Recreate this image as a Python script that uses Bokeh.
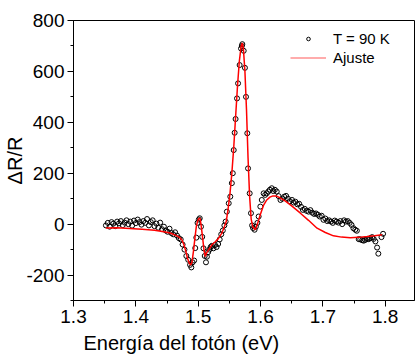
from bokeh.plotting import figure
from bokeh.models import (Legend, LegendItem, SingleIntervalTicker, Range1d, Title,
                          PrintfTickFormatter)
from bokeh.embed import file_html
from bokeh.resources import INLINE

FONT = "Liberation Sans"
NAN = float("nan")

energy = [
    1.352, 1.355, 1.358, 1.361, 1.364, 1.367, 1.370, 1.373, 1.376, 1.379,
    1.382, 1.385, 1.388, 1.391, 1.394, 1.397, 1.400, 1.403, 1.406, 1.409,
    1.412, 1.415, 1.418, 1.421, 1.424, 1.427, 1.430, 1.433, 1.436, 1.439,
    1.442, 1.445, 1.448, 1.451, 1.454, 1.457, 1.460, 1.463, 1.466, 1.469,
    1.472, 1.475, 1.478, 1.481, 1.484, 1.487, 1.489, 1.491, 1.4935, 1.4953,
    1.4970, 1.4990, 1.5010, 1.5025, 1.5045, 1.5065, 1.5085, 1.5105, 1.5125, 1.5140,
    1.5160, 1.5180, 1.5200, 1.5220, 1.5245, 1.5270, 1.5295, 1.5320, 1.5345, 1.5370,
    1.5395, 1.5420, 1.5440, 1.5460, 1.5490, 1.5515, 1.5540, 1.5555, 1.5570, 1.5585,
    1.5600, 1.5623, 1.5640, 1.5665, 1.5687, 1.5700, 1.5708, 1.5730, 1.5750, 1.5767,
    1.5788, 1.5800, 1.5826, 1.5847, 1.5865, 1.5880, 1.5905, 1.5925, 1.5950, 1.5970,
    1.5997, 1.6020, 1.6050, 1.6075, 1.6100, 1.6125, 1.6150, 1.6180, 1.6205, 1.6230,
    1.6260, 1.6290, 1.6320, 1.6350, 1.6380, 1.6410, 1.6440, 1.6470, 1.6506, 1.6530,
    1.6560, 1.6590, 1.6620, 1.6650, 1.6680, 1.6710, 1.6740, 1.6770, 1.6800, 1.6830,
    1.6860, 1.6890, 1.6920, 1.6950, 1.6980, 1.7010, 1.7040, 1.7070, 1.7100, 1.7130,
    1.7160, 1.7190, 1.7220, 1.7250, 1.7280, 1.7310, 1.7340, 1.7370, 1.7400, 1.7430,
    1.7460, 1.7490, 1.7520, 1.7545, 1.7575, 1.7600, 1.7630, 1.7655, 1.7680, 1.7710,
    1.7735, 1.7760, 1.7790, 1.7815, 1.7843, 1.7870, 1.7890, 1.7940, 1.7966,
]

dR_R = [
    -5, 5, -10, 8, 2, -8, 10, 3, 12, -4,
    6, 15, 0, 10, -6, 14, 4, 18, 8, -2,
    12, 5, 20, -5, 8, 15, -8, 2, -14, 6,
    -20, -10, -25, -30, -18, -35, -40, -32, -45, -55,
    -60, -80, -100, -125, -140, -160, -170, -150, -143, -94,
    -53, 5, 18, 23, -10, -50, -95, -125, -150, -128,
    -110, -100, -90, -85, -95, -82, -90, -78, -60, -40,
    -25, -5, 10, 49, 82, 108, 161, 200, 291, 359,
    413, 494, 553, 625, 690, 700, 707, 681, 614, 500,
    357, 219, 121, 43, -5, -15, -22, -10, 5, 30,
    69, 95, 121, 115, 121, 128, 135, 141, 130, 135,
    128, 110, 95, 100, 108, 111, 100, 90, 95, 85,
    88, 78, 80, 68, 56, 60, 52, 49, 55, 45,
    40, 42, 37, 30, 33, 17, 22, 12, 15, 10,
    5, 14, 10, 6, 12, 0, 15, 10, 12, 5,
    -3, -16, -22, -26, -59, -60, -63, -65, -62, -58,
    -59, -55, -51, -58, -68, -92, -116, -51, -38,
]

fit_energy = [
    1.352, 1.370, 1.390, 1.410, 1.430, 1.445, 1.455, 1.465, 1.470, 1.474,
    1.477, 1.480, 1.483, 1.486, 1.488, 1.490, 1.4925, 1.495, 1.497, 1.499,
    1.501, 1.503, 1.505, 1.5075, 1.5095, 1.5115, 1.513, 1.5167, 1.522, 1.527,
    1.532, 1.538, 1.542, 1.545, 1.548, 1.551, 1.554, 1.557, 1.560, 1.563,
    1.566, 1.569, 1.5708, 1.5725, 1.575, 1.5775, 1.580, 1.5825, 1.585, 1.5875,
    1.5916, 1.595, 1.600, 1.605, 1.610, 1.615, 1.620, 1.625, 1.630, 1.640,
    1.650, 1.664, 1.677, 1.6907, 1.704, 1.717, 1.730, 1.744, 1.757, 1.771,
    1.783, 1.795,
]

fit_dR_R = [
    -15, -14, -17, -20, -24, -30, -35, -45, -52, -62,
    -80, -105, -135, -155, -160, -150, -105, -50, -10, 12,
    22, 23, -10, -62, -105, -127, -115, -101, -81, -70,
    -58, -35, -10, 10, 60, 120, 200, 300, 420, 540,
    640, 700, 712, 690, 600, 450, 260, 110, 20, -10,
    -22, 0, 40, 75, 95, 106, 111, 111, 105, 90,
    72, 43, 15, -16, -33, -46, -51, -53, -52, -49,
    -46, -42,
]

x_limits = (1.3, 1.847)
y_limits = (-300, 800)
series_labels = ["T = 90 K", "Ajuste"]
x_title = "Energía del fotón (eV)"
y_title = "ΔR/R"

p = figure(width=416, height=360, output_backend="svg", toolbar_location=None,
           x_range=Range1d(*x_limits), y_range=Range1d(*y_limits),
           min_border_left=73, min_border_right=2, min_border_top=20,
           min_border_bottom=60, background_fill_color="white",
           border_fill_color="white")

p.grid.visible = False
p.outline_line_color = "black"
p.outline_line_width = 1

p.xaxis.ticker = SingleIntervalTicker(interval=0.1, num_minor_ticks=2)
p.yaxis.ticker = SingleIntervalTicker(interval=200, num_minor_ticks=2)
p.xaxis.formatter = PrintfTickFormatter(format="%.1f")
p.yaxis.formatter = PrintfTickFormatter(format="%d")

for ax in (p.xaxis[0], p.yaxis[0]):
    ax.axis_line_color = "black"
    ax.major_tick_line_color = "black"
    ax.minor_tick_line_color = "black"
    ax.major_tick_in = 0
    ax.major_tick_out = 6
    ax.minor_tick_in = 0
    ax.minor_tick_out = 3
    ax.major_label_text_font = FONT
    ax.major_label_text_font_size = "19px"
    ax.major_label_text_color = "black"
    ax.major_label_standoff = 3

p.yaxis.axis_label = y_title
p.yaxis.axis_label_text_font = FONT
p.yaxis.axis_label_text_font_size = "20px"
p.yaxis.axis_label_text_font_style = "normal"
p.yaxis.axis_label_text_color = "black"
p.yaxis.axis_label_standoff = -3

sc = p.scatter(energy, dR_R, marker="circle", size=5, fill_color=None,
               line_color="black", line_width=1)
ln = p.line(fit_energy, fit_dR_R, line_color="red", line_width=1.5)

# legend-only key glyphs (a single NaN point draws nothing in the plot area)
key_sc = p.scatter([NAN], [NAN], marker="circle", size=3.5, fill_color=None,
                   line_color="black", line_width=1)
key_ln = p.line([NAN], [NAN], line_color="#ff5a5a", line_width=1.2)

legend = Legend(items=[LegendItem(label=series_labels[0], renderers=[key_sc]),
                       LegendItem(label=series_labels[1], renderers=[key_ln])],
                location=(217, 234), border_line_color=None,
                background_fill_alpha=0, label_text_font=FONT,
                label_text_font_size="15px", label_text_color="black",
                glyph_width=36, glyph_height=9,
                label_height=16, spacing=2, padding=0, margin=0,
                label_standoff=7)
p.add_layout(legend)

t = Title(text=x_title, align="left", offset=10, text_font=FONT,
          text_font_size="20px", text_font_style="normal", text_color="black",
          standoff=8)
p.add_layout(t, "below")

open("out.html", "w").write(file_html(p, INLINE))
